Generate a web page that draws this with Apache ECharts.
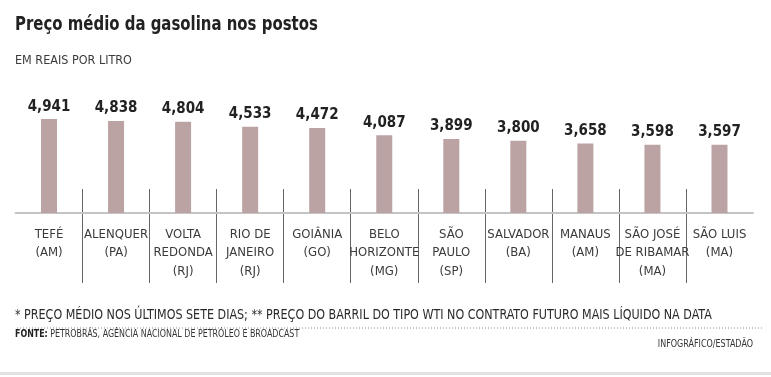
<!DOCTYPE html>
<html>
<head>
<meta charset="utf-8">
<script src="https://cdn.jsdelivr.net/npm/echarts@6/dist/echarts.min.js"></script>
<style>
  html, body { margin: 0; padding: 0; background: #fff; }
  #chart { width: 771px; height: 377px; }
</style>
</head>
<body>
<div id="chart"></div>
<script>
// dados
const cities = ['TEFÉ', 'ALENQUER', 'VOLTA\nREDONDA', 'RIO DE\nJANEIRO', 'GOIÂNIA', 'BELO\nHORIZONTE',
  'SÃO\nPAULO', 'SALVADOR', 'MANAUS', 'SÃO JOSÉ\nDE RIBAMAR', 'SÃO LUIS'];
const states = ['AM', 'PA', 'RJ', 'RJ', 'GO', 'MG', 'SP', 'BA', 'AM', 'MA', 'MA'];
const prices = [4.941, 4.838, 4.804, 4.533, 4.472, 4.087, 3.899, 3.800, 3.658, 3.598, 3.597];

const FONT = '"Liberation Sans Narrow", "DejaVu Sans Condensed", "Roboto", sans-serif';
const labels = cities.map((c, i) => c + '\n(' + states[i] + ')');

const chart = echarts.init(document.getElementById('chart'));

// texto condensado (graphic)
function txt(x, y, text, font, sx, extra) {
  return {
    type: 'text', x: x, y: y, scaleX: sx,
    style: Object.assign({ x: 0, y: 0, text: text, font: font, fill: '#333', verticalAlign: 'middle' }, extra || {}),
  };
}

const option = {
  backgroundColor: '#fff',
  animation: false,
  grid: [
    { left: 15.5, right: 18, top: 118, bottom: 164 },
    { left: 15.5, right: 18, top: 189, bottom: 94 }, // separadores
  ],
  xAxis: [
    {
      type: 'category',
      data: labels,
      axisLine: { lineStyle: { color: '#c4c4c4', width: 2 } },
      axisTick: { show: false },
      axisLabel: {
        interval: 0,
        margin: 12,
        fontFamily: FONT,
        fontSize: 13,
        lineHeight: 18.5,
        color: '#3a3a3a',
      },
    },
    {
      type: 'value',
      gridIndex: 1,
      min: 0,
      max: 11,
      interval: 1,
      axisLine: { show: false },
      axisTick: { show: false },
      axisLabel: { show: false },
      splitLine: {
        show: true,
        showMinLine: false,
        showMaxLine: false,
        lineStyle: { color: '#666', width: 1 },
      },
    },
  ],
  yAxis: [
    { type: 'value', min: 0, max: 5, show: false },
    { type: 'value', gridIndex: 1, show: false },
  ],
  series: [
    {
      type: 'bar',
      data: prices,
      barWidth: 16,
      itemStyle: { color: '#bba3a3' },
      label: {
        show: true,
        position: 'top',
        distance: 5,
        fontFamily: FONT,
        fontWeight: 'bold',
        fontSize: 15,
        color: '#222',
        formatter: p => p.value.toFixed(3).replace('.', ','),
      },
    },
  ],
  graphic: [
    txt(15, 25, 'Preço médio da gasolina nos postos', 'bold 20px ' + FONT, 0.83, { fill: '#222' }),
    txt(15, 61, 'EM REAIS POR LITRO', '13px ' + FONT, 0.96, { fill: '#3a3a3a' }),
    txt(15, 315, '* PREÇO MÉDIO NOS ÚLTIMOS SETE DIAS; ** PREÇO DO BARRIL DO TIPO WTI NO CONTRATO FUTURO MAIS LÍQUIDO NA DATA',
      '14px ' + FONT, 0.885, { fill: '#2a2a2a' }),
    {
      type: 'line',
      shape: { x1: 17, y1: 328, x2: 763, y2: 328 },
      style: { stroke: '#888', lineWidth: 1, lineDash: [1, 2] },
    },
    txt(15, 334, '{b|FONTE:} PETROBRÁS, AGÊNCIA NACIONAL DE PETRÓLEO E BROADCAST', '10px ' + FONT, 0.88, {
      rich: { b: { fontWeight: 'bold', fontSize: 10, fontFamily: FONT, fill: '#222' } },
    }),
    txt(753, 344, 'INFOGRÁFICO/ESTADÃO', '10px ' + FONT, 0.89, { align: 'right' }),
    {
      type: 'rect',
      shape: { x: 0, y: 372, width: 771, height: 3 },
      style: { fill: '#e2e2e2' },
    },
  ],
};

chart.setOption(option);
window.addEventListener('resize', () => chart.resize());
</script>
</body>
</html>
